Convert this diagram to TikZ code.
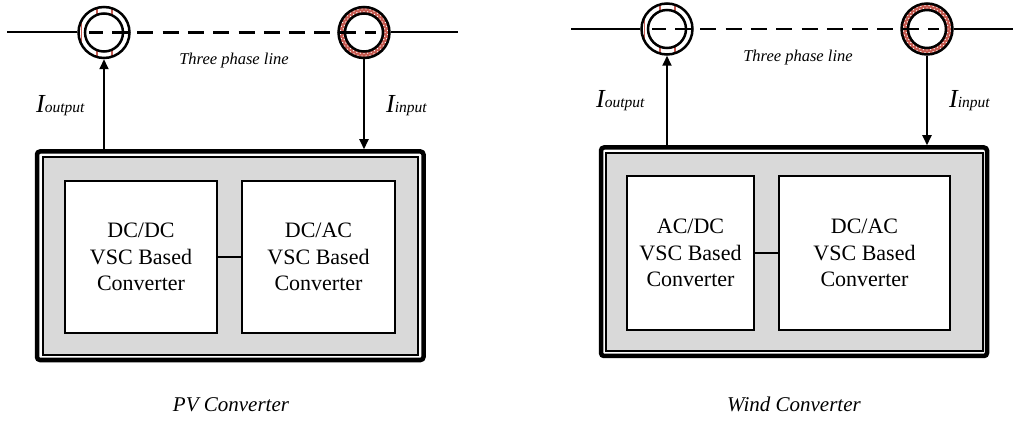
\documentclass[tikz,border=0pt]{standalone}
\usepackage{fontspec}
\setmainfont{Liberation Serif}
\usetikzlibrary{arrows.meta,calc}
\definecolor{ctred}{HTML}{C65A50}
\definecolor{boxgray}{HTML}{D9D9D9}
\tikzset{
  outerbox/.style={draw, line width=4.5pt, rounded corners=3pt, fill=white, inner sep=0pt},
  graybox/.style={draw, line width=1.2pt, fill=boxgray, inner sep=0pt},
  convbox/.style={draw, line width=2pt, fill=white, inner sep=0pt, align=center,
    font=\fontsize{22}{26.5}\selectfont},
  ctouter/.style={circle, draw, line width=2.5pt, minimum size=51pt, inner sep=0pt},
  ctinner/.style={circle, draw, line width=2.5pt, minimum size=38pt, inner sep=0pt},
  wire/.style={line width=2pt},
  phase/.style={line width=2.8pt, dash pattern=on 16pt off 9.3pt, dash phase=2.3pt},
  meas/.style={line width=2pt, -{Triangle[length=10pt,width=9pt]}},
  stripe/.style={ctred, line width=1.2pt},
  curlabel/.style={anchor=base west, inner sep=0pt},
  phaselabel/.style={anchor=base, inner sep=0pt, font=\fontsize{16.5}{16.5}\selectfont\itshape},
  titlelabel/.style={anchor=base, inner sep=0pt, font=\fontsize{21}{21}\selectfont\itshape},
}
\newcommand{\curr}[1]{{\fontsize{26}{26}\selectfont\itshape I}{\fontsize{15.5}{15.5}\selectfont\itshape #1}}
\newcommand{\redring}[1]{%
  \fill[ctred, even odd rule] #1 circle[radius=25.5pt] #1 circle[radius=19pt];
  \foreach \a in {0,10,...,350} \fill[white] ($#1+(\a:21pt)$) circle[radius=0.7pt];
  \foreach \a in {5,15,...,355} \fill[white] ($#1+(\a:23.6pt)$) circle[radius=0.7pt];
}
\newcommand{\stripes}[1]{%
  \draw[stripe] ($#1+(-7pt,-17.7pt)$) -- ($#1+(-7pt,-24.5pt)$);
  \draw[stripe] ($#1+(8pt,-17.2pt)$) -- ($#1+(8pt,-24.2pt)$);
  \draw[stripe] ($#1+(-7pt,17.7pt)$) -- ($#1+(-7pt,24.5pt)$);
  \draw[stripe] ($#1+(8pt,17.2pt)$) -- ($#1+(8pt,24.2pt)$);
  \draw[stripe] ($#1+(-22.3pt,-11pt)$) -- ($#1+(-22.3pt,11pt)$);
}
\begin{document}
\begin{tikzpicture}[x=1pt,y=-1pt]
\useasboundingbox (0,0) rectangle (1013,422);

% ================= PV converter =================
\node[outerbox, minimum width=386.5pt, minimum height=208.5pt] (pvbox) at (230.25,255.75) {};
\node[graybox, minimum width=375pt, minimum height=198pt] (pvgray) at (230.5,256) {};
\node[convbox, minimum width=152pt, minimum height=152pt] (pvdcdc) at (141,257) {DC/DC\\VSC Based\\Converter};
\node[convbox, minimum width=153pt, minimum height=152pt] (pvdcac) at (318.5,257) {DC/AC\\VSC Based\\Converter};
\draw[line width=2pt] (pvdcdc.east) -- (pvdcac.west);

\coordinate (pvc1) at (104,32.5);
\coordinate (pvc2) at (364,32.5);
\stripes{(pvc1)}
\redring{(pvc2)}
\node[ctouter] (pvct1) at (pvc1) {};
\node[ctinner] (pvct1i) at (pvc1) {};
\node[ctouter] (pvct2) at (pvc2) {};
\node[ctinner] (pvct2i) at (pvc2) {};
\coordinate (pvL) at (7,32.5);
\coordinate (pvR) at (458,32.5);
\coordinate (pvdA) at (89,32.5);
\coordinate (pvdB) at (376,32.5);
\draw[wire] (pvL) -- (pvct1.west);
\draw[wire] (pvct2.east) -- (pvR);
\draw[phase] (pvdA) -- (pvdB);
\node[phaselabel] (pvphase) at (234,65) {Three phase line};

\draw[meas] (pvbox.north -| pvct1.south) -- (pvct1.south);
\draw[meas] (pvct2.south) -- (pvbox.north -| pvct2.south);
\node[curlabel] (pvIout) at (36,113) {\curr{output}};
\node[curlabel] (pvIin) at (386,113) {\curr{input}};
\node[titlelabel] (pvtitle) at (231,411) {PV Converter};

% ================= Wind converter =================
\node[outerbox, minimum width=386pt, minimum height=208.5pt] (wbox) at (794,251.75) {};
\node[graybox, minimum width=377pt, minimum height=198pt] (wgray) at (794.5,252) {};
\node[convbox, minimum width=127pt, minimum height=154pt] (wacdc) at (690.5,253) {AC/DC\\VSC Based\\Converter};
\node[convbox, minimum width=171pt, minimum height=154pt] (wdcac) at (864.5,253) {DC/AC\\VSC Based\\Converter};
\draw[line width=2pt] (wacdc.east) -- (wdcac.west);

\coordinate (wc1) at (667,29);
\coordinate (wc2) at (927,29);
\stripes{(wc1)}
\redring{(wc2)}
\node[ctouter] (wct1) at (wc1) {};
\node[ctinner] (wct1i) at (wc1) {};
\node[ctouter] (wct2) at (wc2) {};
\node[ctinner] (wct2i) at (wc2) {};
\coordinate (wL) at (571,29);
\coordinate (wR) at (1013,29);
\coordinate (wdA) at (652,29);
\coordinate (wdB) at (939,29);
\draw[wire] (wL) -- (wct1.west);
\draw[wire] (wct2.east) -- (wR);
\draw[phase] (wdA) -- (wdB);
\node[phaselabel] (wphase) at (798,62) {Three phase line};

\draw[meas] (wbox.north -| wct1.south) -- (wct1.south);
\draw[meas] (wct2.south) -- (wbox.north -| wct2.south);
\node[curlabel] (wIout) at (596,108) {\curr{output}};
\node[curlabel] (wIin) at (949,108) {\curr{input}};
\node[titlelabel] (wtitle) at (794,411) {Wind Converter};
\end{tikzpicture}
\end{document}
